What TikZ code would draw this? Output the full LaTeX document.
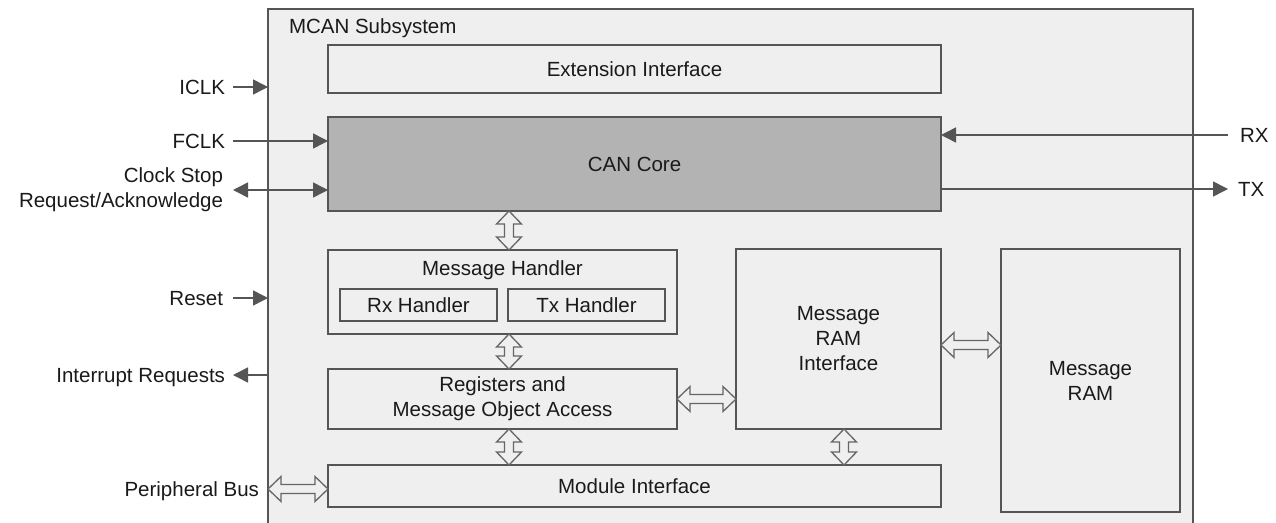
\documentclass[tikz,border=0pt]{standalone}
\usepackage{fontspec}
\setmainfont{Liberation Sans}
\usetikzlibrary{arrows.meta,calc}
\definecolor{bgc}{HTML}{EFEFEF}
\definecolor{linec}{HTML}{555555}
\definecolor{corec}{HTML}{B3B3B3}
\definecolor{txtc}{HTML}{1A1A1A}
\tikzset{
  blk/.style={draw=linec, line width=2.5pt, fill=bgc, inner sep=0pt, outer sep=0pt, align=center, text=txtc},
  lbl/.style={inner sep=0pt, outer sep=0pt, text=txtc},
  tarr/.style={draw=linec, line width=1.5pt, -{Triangle[length=15pt,width=15pt]}},
  hol/.style={draw=linec!90, line width=1.3pt, fill=bgc, line join=miter},
}
\newcommand{\vdbl}[2]{\draw[hol] (#1) -- ++(12.5,13) -- ++(-8,0) -- ($(#2)+(4.5,-13)$) -- ++(8,0) -- (#2) -- ++(-12.5,-13) -- ++(8,0) -- ($(#1)+(-4.5,13)$) -- ++(-8,0) -- cycle;}
\newcommand{\hdbl}[2]{\draw[hol] (#1) -- ++(13,-12.5) -- ++(0,8) -- ($(#2)+(-13,-4.5)$) -- ++(0,-8) -- (#2) -- ++(-13,12.5) -- ++(0,-8) -- ($(#1)+(13,4.5)$) -- ++(0,8) -- cycle;}
\begin{document}
\begin{tikzpicture}[x=1pt,y=-1pt,font=\fontsize{20.5}{25}\selectfont]
\useasboundingbox[fill=white] (0,0) rectangle (1276,522);
% outer subsystem
\node[draw=linec, line width=2pt, fill=bgc, inner sep=0pt, outer sep=0pt, minimum width=925, minimum height=531] (mcan) at (730.5,274.5) {};
\node[lbl, anchor=base west] (title) at (289,33) {MCAN Subsystem};
% blocks
\node[blk, minimum width=613, minimum height=48] (ext) at (634.5,69) {Extension Interface};
\node[blk, fill=corec, minimum width=613, minimum height=94] (can) at (634.5,164) {CAN Core};
\node[blk, minimum width=349, minimum height=84] (mh) at (502.5,292) {};
\node[lbl] (mht) at (502.5,270) {Message Handler};
\node[blk, minimum width=157, minimum height=32] (rxh) at (418.5,305) {Rx Handler};
\node[blk, minimum width=157, minimum height=32] (txh) at (586.5,305) {Tx Handler};
\node[blk, minimum width=349, minimum height=60] (reg) at (502.5,399) {Registers and\\Message Object Access};
\node[blk, minimum width=613, minimum height=42] (mi) at (634.5,486) {Module Interface};
\node[blk, minimum width=205, minimum height=180] (mri) at (838.5,339) {Message\\RAM\\Interface};
\node[blk, minimum width=179, minimum height=263] (mram) at (1090.5,380.5) {Message\\RAM};
% helper coordinates
\coordinate (xa) at (509,0);
\coordinate (xb) at (844,0);
\coordinate (ya) at (0,345);
\coordinate (yb) at (0,489);
% outside labels
\node[lbl, anchor=east, text height=14.5pt, text depth=0pt] (iclk) at (225,87) {ICLK};
\node[lbl, anchor=east, text height=14.5pt, text depth=0pt] (fclk) at (225,141) {FCLK};
\node[lbl, anchor=east, align=right] (cs) at (223,190) {Clock Stop\\Request/Acknowledge};
\node[lbl, anchor=east, text height=14.5pt, text depth=0pt] (rst) at (223,298) {Reset};
\node[lbl, anchor=east, text height=14.5pt, text depth=0pt] (irq) at (225,375) {Interrupt Requests};
\node[lbl, anchor=east, text height=14.5pt, text depth=0pt] (pb) at (259,489) {Peripheral Bus};
\node[lbl, anchor=west, text height=14.5pt, text depth=0pt] (rx) at (1240,135) {RX};
\node[lbl, anchor=west, text height=14.5pt, text depth=0pt] (tx) at (1238,189) {TX};
% thin connectors
\draw[tarr] ([xshift=8pt]iclk.east) -- (mcan.west |- iclk.east);
\draw[tarr] ([xshift=8pt]fclk.east) -- (can.west |- fclk.east);
\draw[tarr, {Triangle[length=15pt,width=15pt]}-{Triangle[length=15pt,width=15pt]}] ([xshift=10pt]cs.east) -- (can.west |- cs.east);
\draw[tarr] ([xshift=10pt]rst.east) -- (mcan.west |- rst.east);
\draw[tarr] (mcan.west |- irq.east) -- ([xshift=8pt]irq.east);
\draw[tarr] ([xshift=-12pt]rx.west) -- (can.east |- rx.west);
\draw[tarr] (can.east |- tx.west) -- ([xshift=-10pt]tx.west);
% hollow double arrows
\vdbl{can.south -| xa}{mh.north -| xa}
\vdbl{mh.south -| xa}{reg.north -| xa}
\vdbl{reg.south -| xa}{mi.north -| xa}
\vdbl{mri.south -| xb}{mi.north -| xb}
\hdbl{reg.east}{mri.west |- reg.east}
\hdbl{mri.east |- ya}{mram.west |- ya}
\hdbl{mcan.west |- yb}{mi.west |- yb}
\end{tikzpicture}
\end{document}
